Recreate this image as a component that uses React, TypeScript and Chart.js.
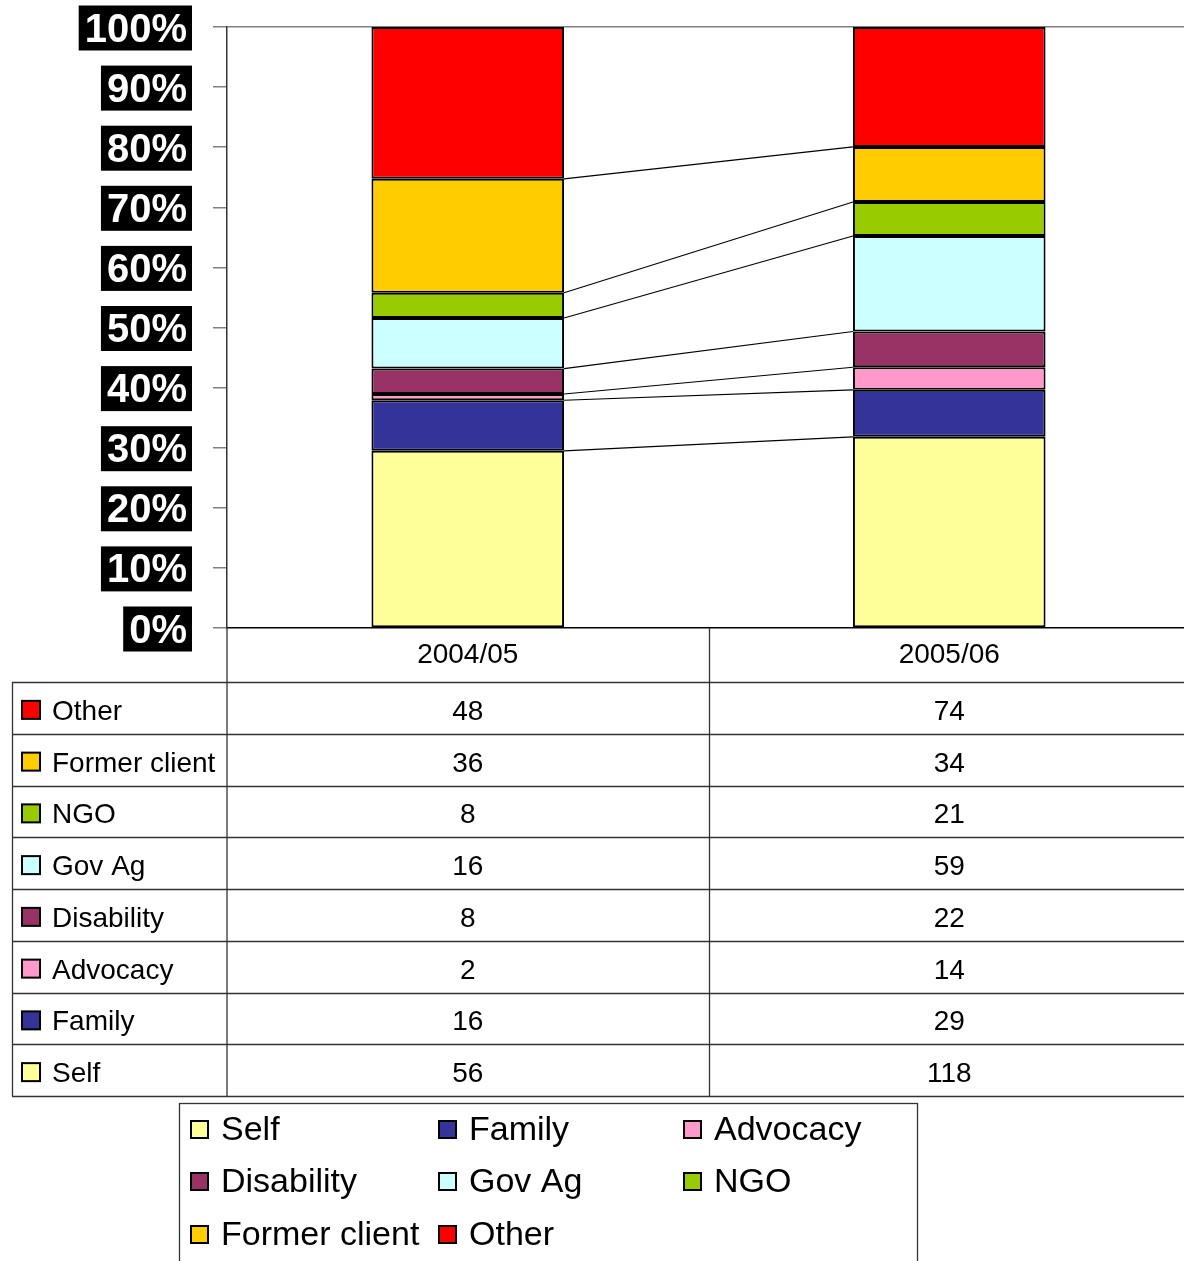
import React, { useEffect, useRef } from "react";
import { Chart, registerables } from "chart.js";

Chart.register(...registerables);

const categories = ["2004/05", "2005/06"];
const seriesNames = ["Self", "Family", "Advocacy", "Disability", "Gov Ag", "NGO", "Former client", "Other"];
const seriesColors = ["#FFFF99", "#333399", "#FF99CC", "#993366", "#CCFFFF", "#99CC00", "#FFCC00", "#FF0000"];
const selfCounts = [56, 118];
const familyCounts = [16, 29];
const advocacyCounts = [2, 14];
const disabilityCounts = [8, 22];
const govAgCounts = [16, 59];
const ngoCounts = [8, 21];
const formerClientCounts = [36, 34];
const otherCounts = [48, 74];
const yTickValues = [0, 10, 20, 30, 40, 50, 60, 70, 80, 90, 100];

const seriesCounts = [
  selfCounts,
  familyCounts,
  advocacyCounts,
  disabilityCounts,
  govAgCounts,
  ngoCounts,
  formerClientCounts,
  otherCounts,
];

const FONT = '"Liberation Sans", Arial, Helvetica, sans-serif';
const CANVAS_W = 1190;
const CANVAS_H = 1261;

const totals = categories.map((_, c) => seriesCounts.reduce((s, arr) => s + arr[c], 0));

const decorPlugin = {
  id: "decor",
  afterDatasetsDraw(chart: any) {
    const ctx = chart.ctx as CanvasRenderingContext2D;
    ctx.save();
    ctx.strokeStyle = "#000";
    ctx.lineWidth = 1.1;
    for (let i = 0; i < chart.data.datasets.length - 1; i++) {
      const meta = chart.getDatasetMeta(i);
      const a = meta.data[0].getProps(["x", "y", "width"], true);
      const b = meta.data[1].getProps(["x", "y", "width"], true);
      ctx.beginPath();
      ctx.moveTo(a.x + a.width / 2, a.y);
      ctx.lineTo(b.x - b.width / 2, b.y);
      ctx.stroke();
    }
    ctx.restore();
  },
  afterDraw(chart: any) {
    const ctx = chart.ctx as CanvasRenderingContext2D;
    const area = chart.chartArea;
    const yScale = chart.scales.y;
    const xScale = chart.scales.x;
    const W = chart.width;
    ctx.save();

    // Y tick labels with black boxes
    ctx.font = `bold 40px ${FONT}`;
    ctx.textAlign = "right";
    ctx.textBaseline = "alphabetic";
    const boxRight = 192;
    yTickValues.forEach((v) => {
      const y = yScale.getPixelForValue(v);
      const txt = `${v}%`;
      const w = ctx.measureText(txt).width;
      ctx.fillStyle = "#000";
      ctx.fillRect(boxRight - w - 11, y - 21.5, w + 11, 45);
      ctx.fillStyle = "#fff";
      ctx.fillText(txt, boxRight - 5, y + 14.5);
    });

    // Data table
    const headerTop = area.bottom;
    const tableTop = headerTop + 54;
    const rowH = 51.75;
    const nRows = seriesNames.length;
    const tableBottom = tableTop + rowH * nRows;
    const colX = categories.map((_, i) => xScale.getPixelForValue(i));
    const midX = (colX[0] + colX[1]) / 2;
    const leftX = 12;

    ctx.strokeStyle = "#333";
    ctx.lineWidth = 1.3;
    for (let k = 0; k <= nRows; k++) {
      const y = Math.round(tableTop + k * rowH) + 0.5;
      ctx.beginPath();
      ctx.moveTo(leftX, y);
      ctx.lineTo(W, y);
      ctx.stroke();
    }
    ctx.beginPath();
    ctx.moveTo(leftX + 0.5, tableTop);
    ctx.lineTo(leftX + 0.5, tableBottom);
    ctx.moveTo(area.left, headerTop);
    ctx.lineTo(area.left, tableBottom);
    ctx.moveTo(Math.round(midX) + 0.5, headerTop);
    ctx.lineTo(Math.round(midX) + 0.5, tableBottom);
    ctx.stroke();

    ctx.font = `28px ${FONT}`;
    ctx.fillStyle = "#000";
    ctx.textAlign = "center";
    categories.forEach((c, i) => {
      ctx.fillText(c, colX[i], headerTop + 25 + 10);
    });

    for (let r = 0; r < nRows; r++) {
      const si = nRows - 1 - r;
      const rowTop = tableTop + r * rowH;
      const cy = rowTop + rowH / 2 + 2;
      ctx.fillStyle = seriesColors[si];
      ctx.fillRect(22, cy - 9, 18, 18);
      ctx.strokeStyle = "#000";
      ctx.lineWidth = 2;
      ctx.strokeRect(22, cy - 9, 18, 18);
      ctx.fillStyle = "#000";
      ctx.textAlign = "left";
      ctx.fillText(seriesNames[si], 52, cy + 10);
      ctx.textAlign = "center";
      categories.forEach((_, i) => {
        ctx.fillText(String(seriesCounts[si][i]), colX[i], cy + 10);
      });
    }

    // Legend
    const lgLeft = 179;
    const lgTop = 1103;
    ctx.strokeStyle = "#333";
    ctx.lineWidth = 1.3;
    ctx.strokeRect(lgLeft + 0.5, lgTop + 0.5, 738, 200);
    const legendCols = [191, 439, 684];
    const legendRows = [1129, 1181, 1234];
    ctx.font = `34px ${FONT}`;
    ctx.textAlign = "left";
    seriesNames.forEach((name, i) => {
      const cx = legendCols[i % 3];
      const cy = legendRows[Math.floor(i / 3)];
      ctx.fillStyle = seriesColors[i];
      ctx.fillRect(cx, cy - 8, 17, 17);
      ctx.strokeStyle = "#000";
      ctx.lineWidth = 2;
      ctx.strokeRect(cx, cy - 8, 17, 17);
      ctx.fillStyle = "#000";
      ctx.fillText(name, cx + 30, cy + 11);
    });

    ctx.restore();
  },
};

export default function App() {
  const canvasRef = useRef<HTMLCanvasElement | null>(null);

  useEffect(() => {
    if (!canvasRef.current) return;
    const datasets = seriesNames.map((name, i) => ({
      label: name,
      data: categories.map((_, c) => (seriesCounts[i][c] / totals[c]) * 100),
      backgroundColor: seriesColors[i],
      borderColor: "#000",
      borderWidth: 2,
      borderSkipped: false as any,
      categoryPercentage: 1,
      barPercentage: 0.4,
    }));
    const chart = new Chart(canvasRef.current, {
      type: "bar",
      data: { labels: categories, datasets },
      options: {
        animation: false,
        responsive: false,
        maintainAspectRatio: false,
        devicePixelRatio: 1,
        layout: { padding: { left: 213, top: 27, right: 0, bottom: CANVAS_H - 628 } },
        plugins: { legend: { display: false }, tooltip: { enabled: false } },
        scales: {
          x: {
            stacked: true,
            ticks: { display: false },
            grid: { display: false },
            border: { display: true, color: "#000", width: 1.5 },
            afterFit: (s: any) => {
              s.height = 0;
            },
          },
          y: {
            stacked: true,
            min: 0,
            max: 100,
            ticks: { display: false, stepSize: 10 },
            grid: {
              drawTicks: true,
              tickLength: 14,
              tickColor: "#808080",
              lineWidth: 1.5,
              color: (c: any) => (c.tick && c.tick.value === 100 ? "#808080" : "rgba(0,0,0,0)"),
            },
            border: { display: true, color: "#333", width: 1.5 },
            afterFit: (s: any) => {
              s.width = 14;
            },
          },
        },
      },
      plugins: [decorPlugin],
    });
    return () => chart.destroy();
  }, []);

  return (
    <div
      style={{
        position: "absolute",
        left: 0,
        top: 0,
        width: 1184,
        height: CANVAS_H,
        overflow: "hidden",
        background: "#fff",
      }}
    >
      <canvas
        ref={canvasRef}
        width={CANVAS_W}
        height={CANVAS_H}
        style={{ width: CANVAS_W, height: CANVAS_H, display: "block" }}
      />
    </div>
  );
}
